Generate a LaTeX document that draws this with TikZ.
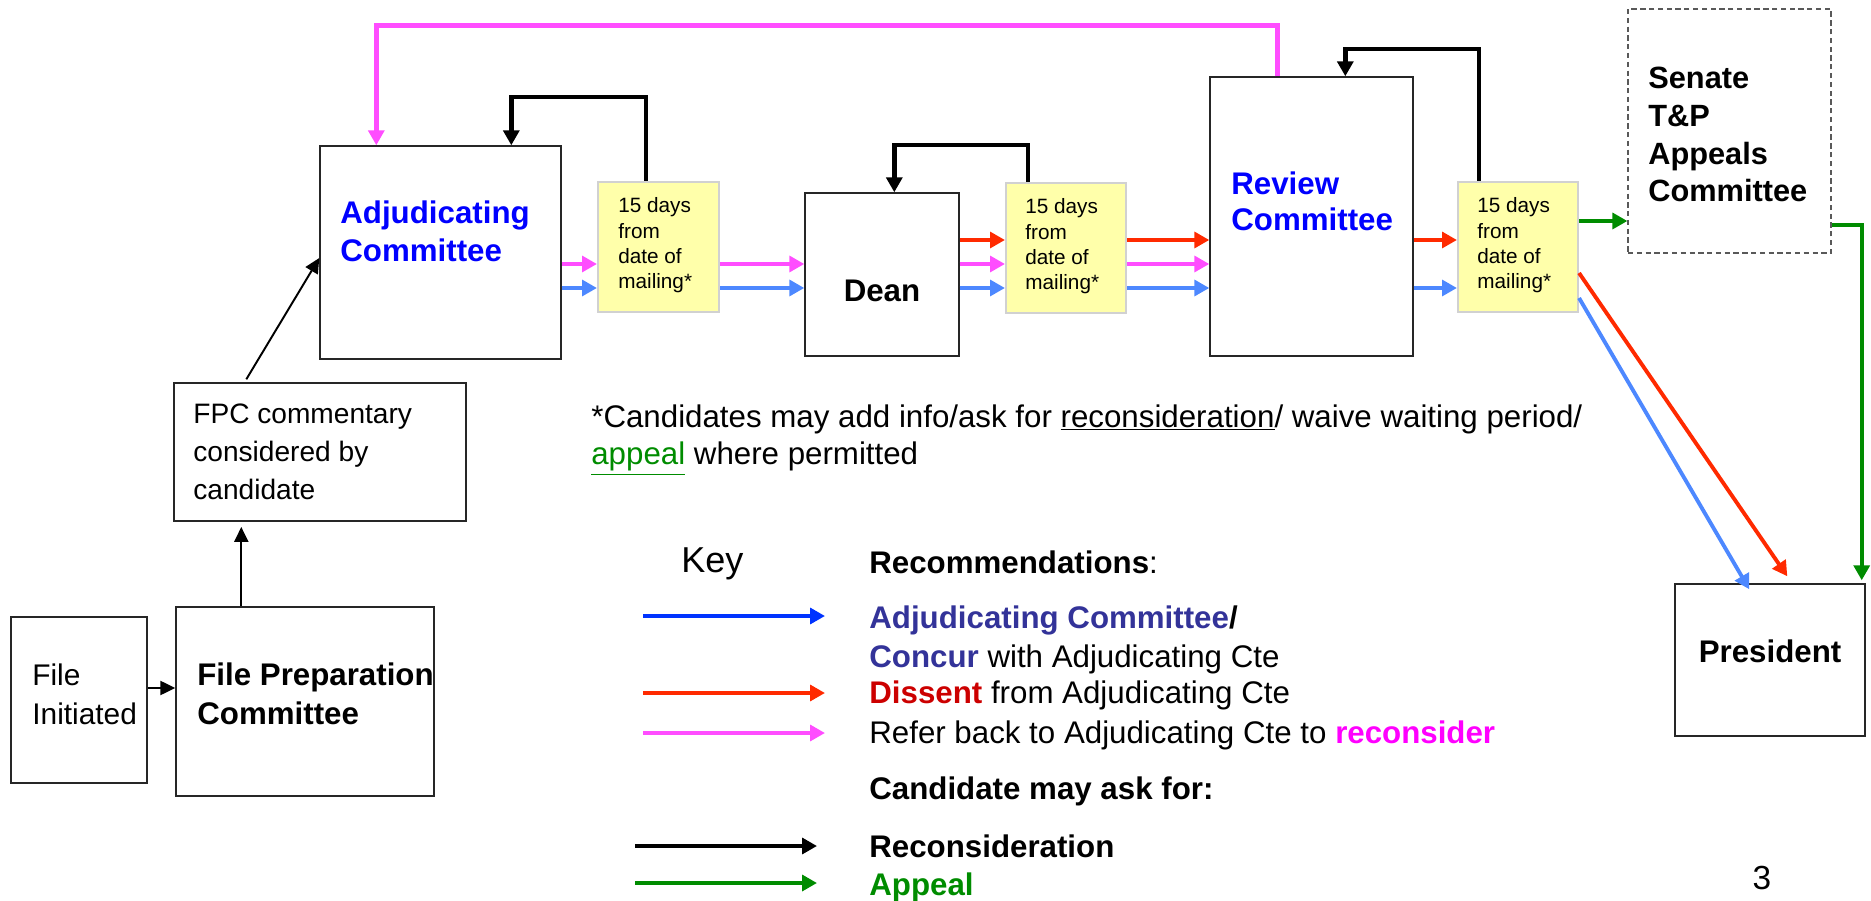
\documentclass[tikz,border=0pt]{standalone}
\usepackage{fontspec}
\setmainfont{Liberation Sans}
\usetikzlibrary{arrows.meta,fit,calc}

\definecolor{recblue}{HTML}{4D88FF}
\definecolor{keyblue}{HTML}{0033FF}
\definecolor{recred}{HTML}{FF2A00}
\definecolor{recpink}{HTML}{FF4DFF}
\definecolor{appgreen}{HTML}{008C00}
\definecolor{cteblue}{HTML}{0000FF}
\definecolor{indigo}{HTML}{333399}
\definecolor{dissent}{HTML}{CC0000}
\definecolor{reconcol}{HTML}{FF00FF}
\definecolor{notefill}{HTML}{FFFFAA}

\tikzset{
  box/.style={draw=black!85, line width=0.8pt, inner sep=0pt},
  waitbox/.style={draw=black!18, fill=notefill, line width=1.2pt, inner sep=0pt},
  appealbox/.style={draw=black!65, dash pattern=on 3pt off 2pt, line width=0.7pt, inner sep=0pt},
  flow/.style={line width=2.6pt, -{Triangle[length=8.5pt,width=9pt]}},
  slope/.style={line width=2.2pt, -{Triangle[length=8.5pt,width=9pt]}},
  keyarrow/.style={line width=2.7pt, -{Triangle[length=8.5pt,width=9pt]}},
  pointer/.style={line width=1.1pt, -{Triangle[length=8.5pt,width=8pt]}},
  boxtext/.style={anchor=base west, align=left, inner sep=0pt, font=\fontsize{17.8}{22}\selectfont},
  waittext/.style={anchor=base west, align=left, inner sep=0pt, font=\fontsize{11.8}{14.5}\selectfont},
}

\begin{document}
\begin{tikzpicture}[x=0.02cm,y=-0.02cm]
\useasboundingbox (0,0) rectangle (1871,901);

% boxes
\node[box, fit={(11,617) (147,783)}] (init) {};
\node[box, fit={(176,607) (434,796)}] (fpc) {};
\node[box, fit={(174,383) (466,521)}] (comment) {};
\node[box, fit={(320,146) (561,359)}] (adj) {};
\node[waitbox, fit={(598,182) (719,312)}] (wait1) {};
\node[box, fit={(805,193) (959,356)}] (dean) {};
\node[waitbox, fit={(1006,183) (1126,313)}] (wait2) {};
\node[box, fit={(1210,77) (1413,356)}] (review) {};
\node[waitbox, fit={(1458,182) (1578,312)}] (wait3) {};
\node[appealbox, fit={(1628,9) (1831,253)}] (senate) {};
\node[box, fit={(1675,584) (1865,736)}] (pres) {};

% box texts (placed at the baseline of the last line)
\node[boxtext, font=\fontsize{17}{22}\selectfont] (inittext) at (32,724) {File\\Initiated};
\node[boxtext] (fpctext) at (197,724) {\textbf{File Preparation}\\\textbf{Committee}};
\node[boxtext, font=\fontsize{16}{21.8}\selectfont] (commenttext) at (193,500) {FPC commentary\\considered by\\candidate};
\node[boxtext, text=cteblue, font=\fontsize{17.8}{22}\selectfont\bfseries] (adjtext) at (340,262) {Adjudicating\\Committee};
\node[boxtext, anchor=base, font=\fontsize{17.8}{22}\selectfont\bfseries] (deantext) at (882,302) {Dean};
\node[boxtext, text=cteblue, font=\fontsize{17.8}{21}\selectfont\bfseries] (reviewtext) at (1231,231) {Review\\Committee};
\node[boxtext, font=\fontsize{17.5}{21.6}\selectfont\bfseries] (senatetext) at (1648,202) {Senate\\T\&P\\Appeals\\Committee};
\node[boxtext, anchor=base, font=\fontsize{17.8}{22}\selectfont\bfseries] (prestext) at (1770,662) {President};
\node[waittext] (wait1text) at (618,289) {15 days\\from\\date of\\mailing*};
\node[waittext] (wait2text) at (1025,290) {15 days\\from\\date of\\mailing*};
\node[waittext] (wait3text) at (1477,289) {15 days\\from\\date of\\mailing*};

% file start
\draw[pointer] (init.east |- 0,688) -- (fpc.west |- 0,688);
\draw[pointer, shorten >=3pt] ($(fpc.north west)+(66,0)$) -- ($(comment.south west)+(68,0)$);
\draw[pointer] ($(comment.north west)+(73,-3)$) -- ($(adj.west)+(0,5.5)$);

% recommendations
\foreach \from/\to in {adj/wait1,wait1/dean,dean/wait2,wait2/review}
  \draw[flow, recpink] (\from.east |- 0,264) -- (\to.west |- 0,264);
\foreach \from/\to in {adj/wait1,wait1/dean,dean/wait2,wait2/review,review/wait3}
  \draw[flow, recblue] (\from.east |- 0,288) -- (\to.west |- 0,288);
\foreach \from/\to in {dean/wait2,wait2/review,review/wait3}
  \draw[flow, recred] (\from.east |- 0,240) -- (\to.west |- 0,240);
\draw[slope, recred] ($(wait3.east)+(0,26)$) -- ($(pres.north west)+(113,-7)$);
\draw[slope, recblue] ($(wait3.east)+(0,51)$) -- ($(pres.north west)+(75,6)$);

% refer back
\draw[flow, recpink] ($(review.north west)+(68,0)$) -- ++(0,-51) -| ($(adj.north west)+(57,0)$);

% reconsideration
\draw[flow, black] ($(wait1.north west)+(49,0)$) -- ++(0,-84) -| ($(adj.north west)+(192,0)$);
\draw[flow, black] ($(wait2.north west)+(23,0)$) -- ++(0,-37) -| ($(dean.north west)+(90,0)$);
\draw[flow, black] ($(wait3.north west)+(22,0)$) -- ++(0,-132) -| ($(review.north west)+(136,0)$);

% appeal
\draw[flow, appgreen] (wait3.east |- 0,221) -- (senate.west |- 0,221);
\draw[slope, appgreen] (senate.east |- 0,225) -| ($(pres.north east)+(-4,-3)$);

% note
\node[boxtext, font=\fontsize{17.8}{21.6}\selectfont] (note) at (591,465) {*Candidates may add info/ask for \underline{reconsideration}/ waive waiting period/\\\textcolor{appgreen}{\underline{appeal}} where permitted};

% key
\node[boxtext, font=\fontsize{20.5}{24}\selectfont] (key) at (681,572) {Key};
\node[boxtext] (rec) at (869,573) {\textbf{Recommendations}:};
\node[boxtext] (keyadj) at (869,628) {\textcolor{indigo}{\textbf{Adjudicating Committee}}\textbf{/}};
\node[boxtext] (keyconcur) at (869,667) {\textcolor{indigo}{\textbf{Concur}} with Adjudicating Cte};
\node[boxtext] (keydissent) at (869,703) {\textcolor{dissent}{\textbf{Dissent}} from Adjudicating Cte};
\node[boxtext] (keyrefer) at (869,743) {Refer back to Adjudicating Cte to \textcolor{reconcol}{\textbf{reconsider}}};
\node[boxtext] (ask) at (869,799) {\textbf{Candidate may ask for:}};
\node[boxtext] (keyrecon) at (869,857) {\textbf{Reconsideration}};
\node[boxtext] (keyappeal) at (869,895) {\textcolor{appgreen}{\textbf{Appeal}}};
\foreach \n/\y/\c in {adj/616/keyblue,dissent/693/recred,refer/733/recpink}{
  \coordinate (\n from) at (643,\y);
  \coordinate (\n to) at (825,\y);
  \draw[keyarrow, \c] (\n from) -- (\n to);
}
\foreach \n/\y/\c in {recon/846/black,appeal/883/appgreen}{
  \coordinate (\n from) at (635,\y);
  \coordinate (\n to) at (817,\y);
  \draw[keyarrow, \c] (\n from) -- (\n to);
}

\node[boxtext, anchor=base, font=\fontsize{19}{22}\selectfont] (page) at (1762,889) {3};
\end{tikzpicture}
\end{document}
